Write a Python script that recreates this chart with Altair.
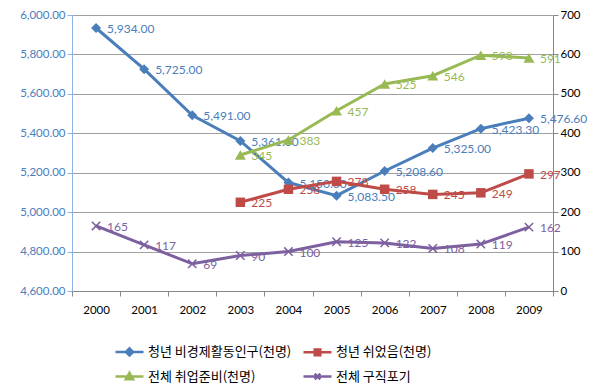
import altair as alt
import pandas as pd

years = ["2000", "2001", "2002", "2003", "2004", "2005", "2006", "2007", "2008", "2009"]
youth_inactive = [5934.00, 5725.00, 5491.00, 5361.00, 5150.00, 5083.50, 5208.60, 5325.00, 5423.30, 5476.60]
youth_rest = [None, None, None, 225, 258, 278, 258, 245, 249, 297]
job_prep = [None, None, None, 345, 383, 457, 525, 546, 598, 591]
job_give_up = [165, 117, 69, 90, 100, 125, 122, 108, 119, 162]

names = ["청년 비경제활동인구(천명)", "청년 쉬었음(천명)", "전체 취업준비(천명)", "전체 구직포기"]
colors = ["#4A7EBB", "#BE4B48", "#98B954", "#7D60A0"]
marker_shapes = ["diamond", "square", "triangle-up", "M-1,-1L1,1M1,-1L-1,1"]
marker_sizes = [100, 90, 120, 70]
legend_paths = [
    "M-1,0H1M0,-0.26L0.26,0L0,0.26L-0.26,0Z",
    "M-1,0H1M-0.2,-0.2H0.2V0.2H-0.2Z",
    "M-1,0H1M0,-0.26L0.26,0.2L-0.26,0.2Z",
    "M-1,0H1M-0.2,-0.2L0.2,0.2M0.2,-0.2L-0.2,0.2",
]

FONT = "Lato"

x_enc = alt.X(
    "year:O",
    scale=alt.Scale(type="band", domain=years, paddingInner=0, paddingOuter=0),
    axis=alt.Axis(title=None, labelAngle=0, tickBand="extent", domainColor="#868686",
                  tickColor="#868686", labelColor="#000000", labelFont=FONT,
                  labelFontSize=11.5, labelPadding=8, tickSize=5, grid=False),
)

# left series
left_df = pd.DataFrame({"year": years, "value": youth_inactive, "series": names[0]})
left_df["label"] = [f"{v:,.2f}" for v in youth_inactive]

y_left = alt.Y(
    "value:Q",
    scale=alt.Scale(domain=[4600, 6000], nice=False, zero=False),
    axis=alt.Axis(title=None, orient="left", values=list(range(4600, 6001, 200)),
                  format=",.2f", labelColor="#4A7EBB", labelFont=FONT, labelFontSize=11.5,
                  domainColor="#8EB4E3", tickColor="#8EB4E3", tickSize=5,
                  grid=True, gridColor="#A0A0A0", gridWidth=1),
)

lb = alt.Chart(left_df)
left = alt.layer(
    lb.mark_line(color=colors[0], strokeWidth=3).encode(x=x_enc, y=y_left),
    lb.mark_point(shape=marker_shapes[0], filled=True, color=colors[0], size=marker_sizes[0], opacity=1).encode(x=x_enc, y=y_left),
    lb.mark_text(align="left", baseline="middle", dx=11, dy=1, font=FONT, fontSize=12, color=colors[0]).encode(x=x_enc, y=y_left, text="label:N"),
)

# right series
rows = []
for name, vals in zip(names[1:], [youth_rest, job_prep, job_give_up]):
    for yr, v in zip(years, vals):
        if v is not None:
            rows.append({"year": yr, "value": v, "series": name, "label": f"{v:,.0f}"})
right_df = pd.DataFrame(rows)

y_right = alt.Y(
    "value:Q",
    scale=alt.Scale(domain=[0, 700], nice=False),
    axis=alt.Axis(title=None, orient="right", values=list(range(0, 701, 100)),
                  labelColor="#000000", labelFont=FONT, labelFontSize=11.5,
                  domainColor="#868686", tickColor="#868686", tickSize=5, grid=False),
)

rb = alt.Chart(right_df)
right_layers = []
for i in range(1, 4):
    base = rb.transform_filter(alt.datum.series == names[i])
    right_layers.append(base.mark_line(color=colors[i], strokeWidth=3).encode(x=x_enc, y=y_right))
    if i == 3:
        right_layers.append(base.mark_point(shape=marker_shapes[i], filled=False, color=colors[i], strokeWidth=1.5,
                                            size=marker_sizes[i], opacity=1).encode(x=x_enc, y=y_right))
    else:
        right_layers.append(base.mark_point(shape=marker_shapes[i], filled=True, color=colors[i],
                                            size=marker_sizes[i], opacity=1).encode(x=x_enc, y=y_right))
    right_layers.append(base.mark_text(align="left", baseline="middle", dx=11, dy=1, font=FONT, fontSize=12,
                                       color=colors[i]).encode(x=x_enc, y=y_right, text="label:N"))

legend_def = alt.Legend(
    title=None, orient="none", legendX=42, legendY=321, columns=2, direction="horizontal",
    symbolStrokeWidth=2.5, labelFont="Noto Sans CJK KR", labelFontSize=13, labelColor="#000000",
    columnPadding=6, rowPadding=-5, labelOffset=3, symbolSize=784,
)
sc_dom = names
legend_layer = rb.transform_filter("false").mark_point(size=784, opacity=1).encode(
    x=x_enc, y=y_right,
    fill=alt.Fill("series:N", scale=alt.Scale(domain=sc_dom, range=colors), legend=legend_def),
    stroke=alt.Stroke("series:N", scale=alt.Scale(domain=sc_dom, range=colors), legend=legend_def),
    shape=alt.Shape("series:N", scale=alt.Scale(domain=sc_dom, range=legend_paths), legend=legend_def),
)
right_layers.append(legend_layer)
right = alt.layer(*right_layers)

chart = alt.layer(left, right).resolve_scale(y="independent").properties(
    width=481, height=276,
    autosize=alt.AutoSizeParams(type="none"),
    padding={"left": 64, "top": 7, "right": 39, "bottom": 96},
).configure_view(stroke=None)

chart.save("out.html", embed_options={"renderer": "svg", "actions": False})
